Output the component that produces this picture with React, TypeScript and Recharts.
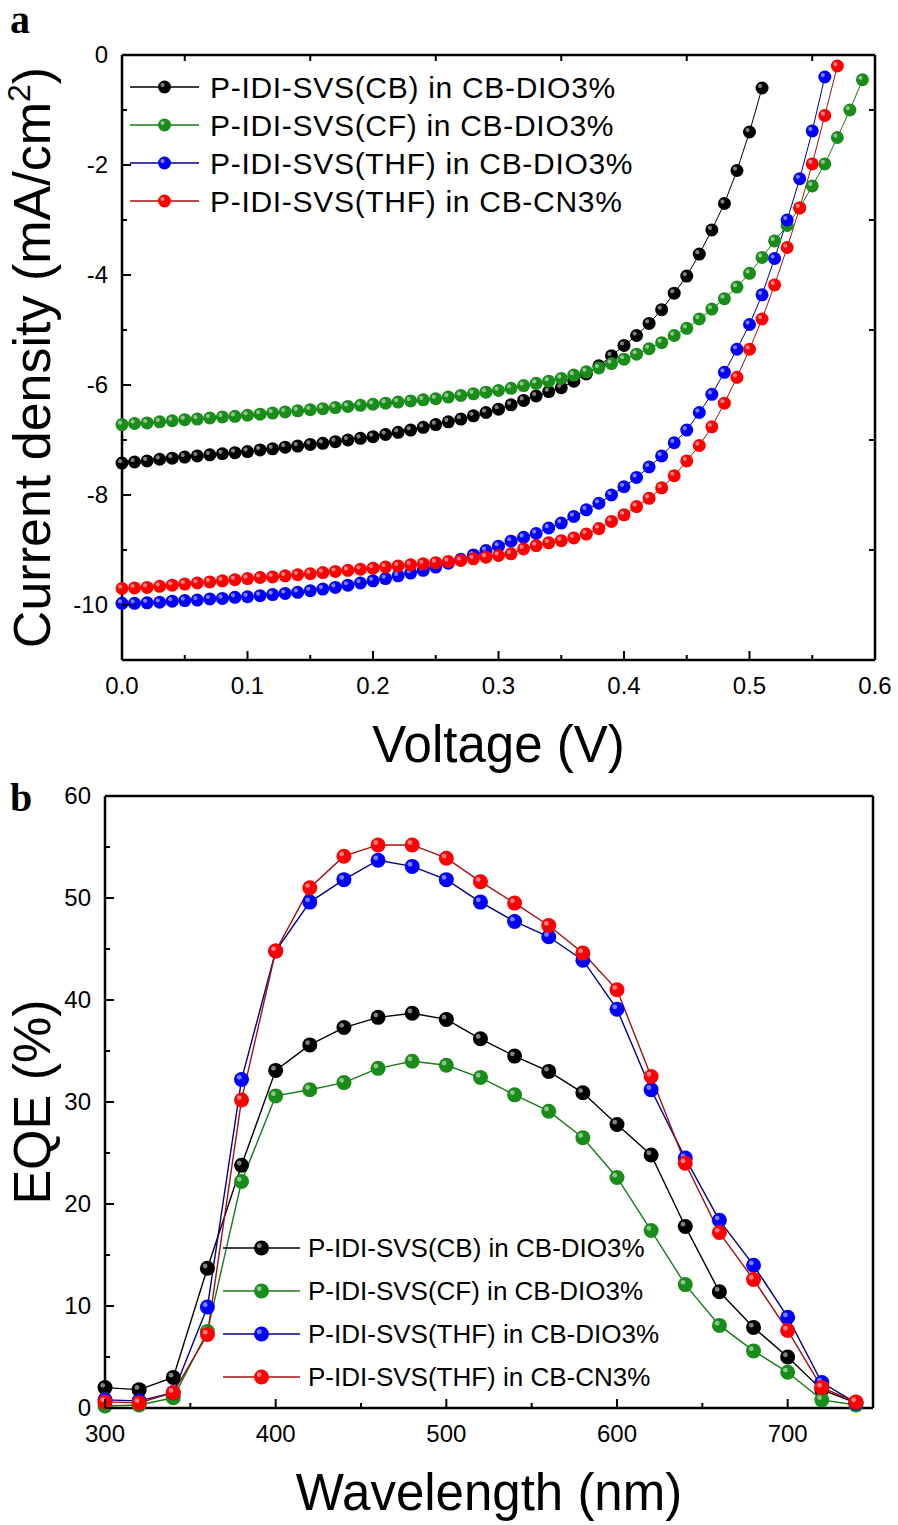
import { LineChart, Line, XAxis, YAxis } from 'recharts';

const FONT = '"Liberation Sans", Arial, Helvetica, sans-serif';

// ---- panel a: J-V ----
const voltage = [
  0, 0.01, 0.02, 0.03, 0.04, 0.05, 0.06, 0.07, 0.08, 0.09,
  0.1, 0.11, 0.12, 0.13, 0.14, 0.15, 0.16, 0.17, 0.18, 0.19,
  0.2, 0.21, 0.22, 0.23, 0.24, 0.25, 0.26, 0.27, 0.28, 0.29,
  0.3, 0.31, 0.32, 0.33, 0.34, 0.35, 0.36, 0.37, 0.38, 0.39,
  0.4, 0.41, 0.42, 0.43, 0.44, 0.45, 0.46, 0.47, 0.48, 0.49,
  0.5, 0.51, 0.52, 0.53, 0.54, 0.55, 0.56, 0.57, 0.58, 0.59,
];

const jCB = [
  -7.42, -7.40, -7.38, -7.35, -7.33, -7.31, -7.29, -7.27, -7.25, -7.23,
  -7.21, -7.18, -7.16, -7.13, -7.11, -7.08, -7.06, -7.03, -7.00, -6.97,
  -6.94, -6.90, -6.86, -6.82, -6.77, -6.72, -6.67, -6.62, -6.56, -6.50,
  -6.44, -6.36, -6.28, -6.20, -6.12, -6.05, -5.93, -5.80, -5.65, -5.47,
  -5.28, -5.10, -4.88, -4.63, -4.33, -4.02, -3.62, -3.18, -2.70, -2.10,
  -1.40, -0.60,
];

const jCF = [
  -6.72, -6.70, -6.69, -6.67, -6.65, -6.63, -6.62, -6.60, -6.58, -6.57,
  -6.55, -6.53, -6.51, -6.49, -6.47, -6.45, -6.43, -6.41, -6.39, -6.37,
  -6.35, -6.33, -6.31, -6.29, -6.27, -6.25, -6.22, -6.19, -6.16, -6.13,
  -6.10, -6.06, -6.01, -5.97, -5.93, -5.88, -5.82, -5.76, -5.69, -5.61,
  -5.53, -5.44, -5.34, -5.23, -5.10, -4.97, -4.80, -4.62, -4.43, -4.22,
  -3.97, -3.68, -3.38, -3.10, -2.78, -2.38, -1.98, -1.50, -1.00, -0.45,
];

const jTHF = [
  -9.97, -9.97, -9.96, -9.95, -9.93, -9.92, -9.91, -9.89, -9.88, -9.86,
  -9.85, -9.83, -9.81, -9.79, -9.77, -9.74, -9.71, -9.68, -9.64, -9.60,
  -9.56, -9.52, -9.47, -9.42, -9.37, -9.31, -9.24, -9.17, -9.09, -9.01,
  -8.93, -8.84, -8.77, -8.70, -8.60, -8.51, -8.39, -8.27, -8.15, -8.00,
  -7.85, -7.68, -7.49, -7.29, -7.05, -6.82, -6.50, -6.17, -5.77, -5.35,
  -4.90, -4.36, -3.70, -3.00, -2.25, -1.38, -0.40,
];

const jCN = [
  -9.70, -9.69, -9.68, -9.66, -9.64, -9.62, -9.60, -9.58, -9.56, -9.54,
  -9.52, -9.50, -9.49, -9.47, -9.45, -9.43, -9.41, -9.39, -9.37, -9.35,
  -9.33, -9.31, -9.29, -9.27, -9.25, -9.23, -9.21, -9.19, -9.16, -9.13,
  -9.10, -9.07, -8.98, -8.92, -8.87, -8.83, -8.78, -8.71, -8.61, -8.48,
  -8.36, -8.21, -8.06, -7.87, -7.65, -7.38, -7.10, -6.76, -6.33, -5.86,
  -5.35, -4.80, -4.18, -3.50, -2.78, -1.98, -1.10, -0.20,
];

const vTicks = [0, 0.05, 0.1, 0.15, 0.2, 0.25, 0.3, 0.35, 0.4, 0.45, 0.5, 0.55, 0.6];
const vMajor = [0, 0.1, 0.2, 0.3, 0.4, 0.5, 0.6];
const vTopTicks = [0.05, 0.15, 0.25, 0.35, 0.45, 0.55];
const jTicks = [-10, -9, -8, -7, -6, -5, -4, -3, -2, -1, 0];
const jMajor = [0, -2, -4, -6, -8, -10];
const jRightTicks = [-1, -3, -5, -7, -9];

// ---- panel b: EQE ----
const wavelength = [300, 320, 340, 360, 380, 400, 420, 440, 460, 480, 500, 520, 540, 560, 580, 600, 620, 640, 660, 680, 700, 720, 740];
const eqeCB = [2.0, 1.8, 3.0, 13.7, 23.8, 33.1, 35.6, 37.3, 38.3, 38.7, 38.1, 36.2, 34.5, 33.0, 30.9, 27.8, 24.8, 17.8, 11.4, 7.9, 5.0, 1.8, 0.5];
const eqeCF = [0.2, 0.3, 1.0, 7.5, 22.2, 30.6, 31.2, 31.9, 33.3, 34.0, 33.6, 32.4, 30.7, 29.1, 26.5, 22.6, 17.4, 12.1, 8.1, 5.6, 3.5, 0.8, 0.3];
const eqeTHF = [0.8, 0.7, 1.5, 9.9, 32.2, 44.8, 49.6, 51.8, 53.7, 53.1, 51.8, 49.6, 47.7, 46.2, 43.9, 39.1, 31.2, 24.5, 18.4, 14.0, 8.9, 2.5, 0.5];
const eqeCN = [0.6, 0.5, 1.5, 7.2, 30.2, 44.8, 51.0, 54.1, 55.2, 55.2, 53.9, 51.6, 49.5, 47.3, 44.6, 41.0, 32.5, 24.0, 17.2, 12.6, 7.6, 2.0, 0.6];

const wTicks = [300, 350, 400, 450, 500, 550, 600, 650, 700, 750];
const wMajor = [300, 400, 500, 600, 700];
const eTicks = [0, 5, 10, 15, 20, 25, 30, 35, 40, 45, 50, 55, 60];
const eMajor = [0, 10, 20, 30, 40, 50, 60];

const seriesNames = [
  'P-IDI-SVS(CB) in CB-DIO3%',
  'P-IDI-SVS(CF) in CB-DIO3%',
  'P-IDI-SVS(THF) in CB-DIO3%',
  'P-IDI-SVS(THF) in CB-CN3%',
];
const dotColors = ['#000000', '#1a8c1a', '#0000ff', '#ff0000'];
const lineColors = ['#000000', '#1a7a1a', '#00008b', '#a01010'];

const jvSets = [jCB, jCF, jTHF, jCN].map(js => js.map((j, i) => ({ v: voltage[i], j })));
const eqeData = wavelength.map((w, i) => ({
  w, cb: eqeCB[i], cf: eqeCF[i], thf: eqeTHF[i], cn: eqeCN[i],
}));
const eqeKeys = ['cb', 'cf', 'thf', 'cn'];

const ball = (r: number, fill: string) => (props: any) => {
  const { cx, cy, index } = props;
  if (cx == null || cy == null) return <g key={index} />;
  return (
    <g key={index}>
      <circle cx={cx} cy={cy} r={r} fill={fill} />
      <circle cx={cx - r * 0.3} cy={cy - r * 0.3} r={r * 0.32} fill="#fff" opacity={0.5} />
    </g>
  );
};

const isIn = (arr: number[], v: number) => arr.some(m => Math.abs(m - v) < 1e-9);

// inward ticks drawn by hand: major longer, minor shorter
const makeTick = (side: string, majors: number[], fmt: ((v: number) => string) | null) => (props: any) => {
  const { x, y, payload } = props;
  const v = payload.value;
  const major = isIn(majors, v);
  const len = major ? 9 : 5;
  let line = null;
  let label = null;
  if (side === 'bottom') {
    line = <line x1={x} y1={y} x2={x} y2={y - len} stroke="#000" strokeWidth={2} />;
    if (fmt && major) label = <text x={x} y={y + 34} textAnchor="middle" fontSize={24} fontFamily={FONT} fill="#000">{fmt(v)}</text>;
  } else if (side === 'left') {
    line = <line x1={x} y1={y} x2={x + len} y2={y} stroke="#000" strokeWidth={2} />;
    if (fmt && major) label = <text x={x - 14} y={y + 8} textAnchor="end" fontSize={24} fontFamily={FONT} fill="#000">{fmt(v)}</text>;
  } else if (side === 'top') {
    line = <line x1={x} y1={y} x2={x} y2={y + 6} stroke="#000" strokeWidth={2} />;
  } else {
    line = <line x1={x} y1={y} x2={x - 6} y2={y} stroke="#000" strokeWidth={2} />;
  }
  return <g>{line}{label}</g>;
};

const xTitle = (text: string) => (props: any) => {
  const vb = props.viewBox;
  return (
    <text x={vb.x + vb.width / 2} y={vb.y + 102} textAnchor="middle" fontSize={51} fontFamily={FONT} fill="#000">
      {text}
    </text>
  );
};

const yTitle = (content: any) => (props: any) => {
  const vb = props.viewBox;
  const cy = vb.y + vb.height / 2;
  const bx = 50;
  return (
    <text x={bx} y={cy} transform={`rotate(-90 ${bx} ${cy})`} textAnchor="middle" fontSize={52} fontFamily={FONT} fill="#000">
      {content}
    </text>
  );
};

function LegendBox(p: { left: number; top: number; gap: number; lineLen: number; r: number; fontSize: number; spacing: number; textX: number; lineW: number }) {
  const h = p.gap * 4 + 10;
  return (
    <svg style={{ position: 'absolute', left: p.left, top: p.top }} width={520} height={h}>
      {seriesNames.map((name, i) => {
        const y = 20 + i * p.gap;
        const mx = p.lineLen / 2;
        return (
          <g key={name}>
            <line x1={0} y1={y} x2={p.lineLen} y2={y} stroke={lineColors[i]} strokeWidth={p.lineW} />
            <circle cx={mx} cy={y} r={p.r} fill={dotColors[i]} />
            <circle cx={mx - p.r * 0.3} cy={y - p.r * 0.3} r={p.r * 0.32} fill="#fff" opacity={0.5} />
            <text x={p.textX} y={y + p.fontSize * 0.36} fontSize={p.fontSize} letterSpacing={p.spacing} fontFamily={FONT} fill="#000">
              {name}
            </text>
          </g>
        );
      })}
    </svg>
  );
}

export default function App() {
  const axisLine = { stroke: '#000', strokeWidth: 2.5 };
  return (
    <div style={{ position: 'absolute', left: 0, top: 0, width: 898, height: 1525, background: '#fff' }}>
      {/* panel a */}
      <div style={{ position: 'absolute', left: 0, top: 0 }}>
        <LineChart width={898} height={785} margin={{ top: 54, right: 22, bottom: 0, left: 0 }}>
          <XAxis
            dataKey="v" type="number" domain={[0, 0.6]} ticks={vTicks} interval={0}
            height={125} tickSize={0} tickMargin={0} tickLine={false} axisLine={axisLine}
            tick={makeTick('bottom', vMajor, v => v.toFixed(1))}
            label={xTitle('Voltage (V)')}
          />
          <XAxis
            xAxisId="top" orientation="top" dataKey="v" type="number" domain={[0, 0.6]} ticks={vTopTicks} interval={0}
            height={1} tickSize={0} tickMargin={0} tickLine={false} axisLine={axisLine}
            tick={makeTick('top', [], null)}
          />
          <YAxis
            type="number" domain={[-11, 0]} ticks={jTicks} interval={0}
            width={122} tickSize={0} tickMargin={0} tickLine={false} axisLine={axisLine}
            tick={makeTick('left', jMajor, v => String(v))}
            label={yTitle(<>Current density (mA/cm<tspan dy={-20} fontSize={32}>2</tspan><tspan dy={20}>)</tspan></>)}
          />
          <YAxis
            yAxisId="right" orientation="right" type="number" domain={[-11, 0]} ticks={jRightTicks} interval={0}
            width={1} tickSize={0} tickMargin={0} tickLine={false} axisLine={axisLine}
            tick={makeTick('right', [], null)}
          />
          <Line
            data={jvSets[0]} xAxisId="top" yAxisId="right" dataKey="j" stroke="none" dot={false}
            isAnimationActive={false} legendType="none"
          />
          {jvSets.map((set, i) => (
            <Line
              key={seriesNames[i]} data={set} dataKey="j" name={seriesNames[i]} type="linear"
              stroke={lineColors[i]} strokeWidth={1} dot={ball(6.5, dotColors[i])} activeDot={false}
              isAnimationActive={false}
            />
          ))}
        </LineChart>
        <LegendBox left={130} top={67} gap={38} lineLen={69} r={6.5} fontSize={30} spacing={0.7} textX={80} lineW={1.5} />
      </div>
      <div style={{ position: 'absolute', left: 10, top: 0, fontFamily: '"Liberation Serif", "Times New Roman", serif', fontWeight: 'bold', fontSize: 40, lineHeight: '40px' }}>a</div>

      {/* panel b */}
      <div style={{ position: 'absolute', left: 0, top: 770 }}>
        <LineChart width={898} height={755} data={eqeData} margin={{ top: 25, right: 24, bottom: 0, left: 0 }}>
          <XAxis
            dataKey="w" type="number" domain={[300, 750]} ticks={wTicks} interval={0}
            height={117} tickSize={0} tickMargin={0} tickLine={false} axisLine={axisLine}
            tick={makeTick('bottom', wMajor, v => String(v))}
            label={xTitle('Wavelength (nm)')}
          />
          <XAxis
            xAxisId="top" orientation="top" dataKey="w" type="number" domain={[300, 750]}
            height={1} tick={false} tickLine={false} axisLine={axisLine}
          />
          <YAxis
            type="number" domain={[0, 60]} ticks={eTicks} interval={0}
            width={105} tickSize={0} tickMargin={0} tickLine={false} axisLine={axisLine}
            tick={makeTick('left', eMajor, v => String(v))}
            label={yTitle('EQE (%)')}
          />
          <YAxis
            yAxisId="right" orientation="right" type="number" domain={[0, 60]}
            width={1} tick={false} tickLine={false} axisLine={axisLine}
          />
          <Line
            xAxisId="top" yAxisId="right" dataKey="cb" stroke="none" dot={false}
            isAnimationActive={false} legendType="none"
          />
          {eqeKeys.map((k, i) => (
            <Line
              key={k} dataKey={k} name={seriesNames[i]} type="linear"
              stroke={lineColors[i]} strokeWidth={1.4} dot={ball(7.5, dotColors[i])} activeDot={false}
              isAnimationActive={false}
            />
          ))}
        </LineChart>
        <LegendBox left={223} top={458} gap={43} lineLen={77} r={7.5} fontSize={26} spacing={0} textX={85} lineW={1.5} />
      </div>
      <div style={{ position: 'absolute', left: 10, top: 778, fontFamily: '"Liberation Serif", "Times New Roman", serif', fontWeight: 'bold', fontSize: 40, lineHeight: '40px' }}>b</div>
    </div>
  );
}
